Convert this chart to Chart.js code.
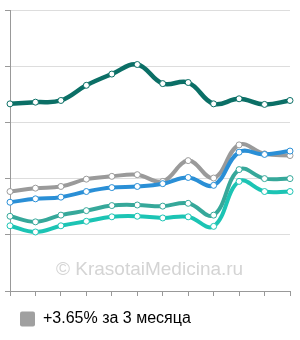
<!DOCTYPE html>
<html>
<head>
<meta charset="utf-8">
<script src="https://cdn.jsdelivr.net/npm/chart.js@4"></script>
<style>
  html, body { margin: 0; padding: 0; background: #fff; }
  #wrap { position: relative; width: 300px; height: 340px; }
  #mark {
    position: absolute; left: 56px; top: 258px;
    font: 19px "Liberation Sans", Arial, sans-serif; color: #d4d4d4;
    white-space: nowrap; pointer-events: none;
  }
</style>
</head>
<body>
<div id="wrap">
  <canvas id="chart" width="300" height="340"></canvas>
  <div id="mark">© KrasotaiMedicina.ru</div>
</div>
<script>
// months (no labels shown on the axis)
const months = ['1', '2', '3', '4', '5', '6', '7', '8', '9', '10', '11', '12'];

const darkGreen = [3.33, 3.36, 3.39, 3.66, 3.86, 4.03, 3.69, 3.71, 3.33, 3.42, 3.32, 3.39];
const gray = [1.77, 1.83, 1.86, 1.99, 2.04, 2.07, 1.95, 2.32, 2.01, 2.60, 2.44, 2.41];
const blue = [1.58, 1.64, 1.67, 1.77, 1.84, 1.86, 1.91, 2.02, 1.88, 2.47, 2.43, 2.49];
const teal = [1.33, 1.23, 1.35, 1.43, 1.52, 1.53, 1.51, 1.56, 1.35, 2.16, 2.00, 2.00];
const cyan = [1.16, 1.05, 1.16, 1.24, 1.32, 1.33, 1.30, 1.32, 1.15, 1.95, 1.77, 1.77];

const legendText = '+3.65% за 3 месяца';

function line(data, color, width) {
    return {
        data: data,
        borderColor: color,
        backgroundColor: color,
        borderWidth: width,
        tension: 0.4,
        pointRadius: 3,
        pointBorderWidth: 1,
        pointBackgroundColor: '#fff',
        pointBorderColor: color,
        fill: false
    };
}

new Chart(document.getElementById('chart'), {
    type: 'line',
    data: {
        labels: months,
        datasets: [
            line(darkGreen, '#0b6f66', 4.5),
            line(teal, '#36a89a', 4),
            line(cyan, '#1cc4b4', 4),
            line(blue, '#2a8fd6', 4),
            line(gray, '#9a9a9a', 4)
        ]
    },
    options: {
        responsive: false,
        animation: false,
        layout: { padding: { left: 5, right: 10, top: 10, bottom: 3 } },
        plugins: {
            tooltip: { enabled: false },
            legend: {
                position: 'bottom',
                align: 'start',
                labels: {
                    padding: 15,
                    boxWidth: 15,
                    boxHeight: 15,
                    color: '#333',
                    font: { family: '"Liberation Sans", Arial, sans-serif', size: 16 },
                    generateLabels: function() {
                        return [{
                            text: legendText,
                            fillStyle: '#a0a0a0',
                            strokeStyle: '#a0a0a0',
                            lineWidth: 0,
                            borderRadius: 2,
                            datasetIndex: 4
                        }];
                    }
                }
            }
        },
        scales: {
            x: {
                ticks: { display: false },
                grid: { display: true, drawOnChartArea: false, tickLength: 5, color: '#999' },
                border: { color: '#999' }
            },
            y: {
                min: 0,
                max: 5,
                ticks: { display: false, stepSize: 1 },
                grid: { color: '#ddd', tickLength: 5, tickColor: '#999' },
                border: { color: '#999' }
            }
        }
    }
});
</script>
</body>
</html>
